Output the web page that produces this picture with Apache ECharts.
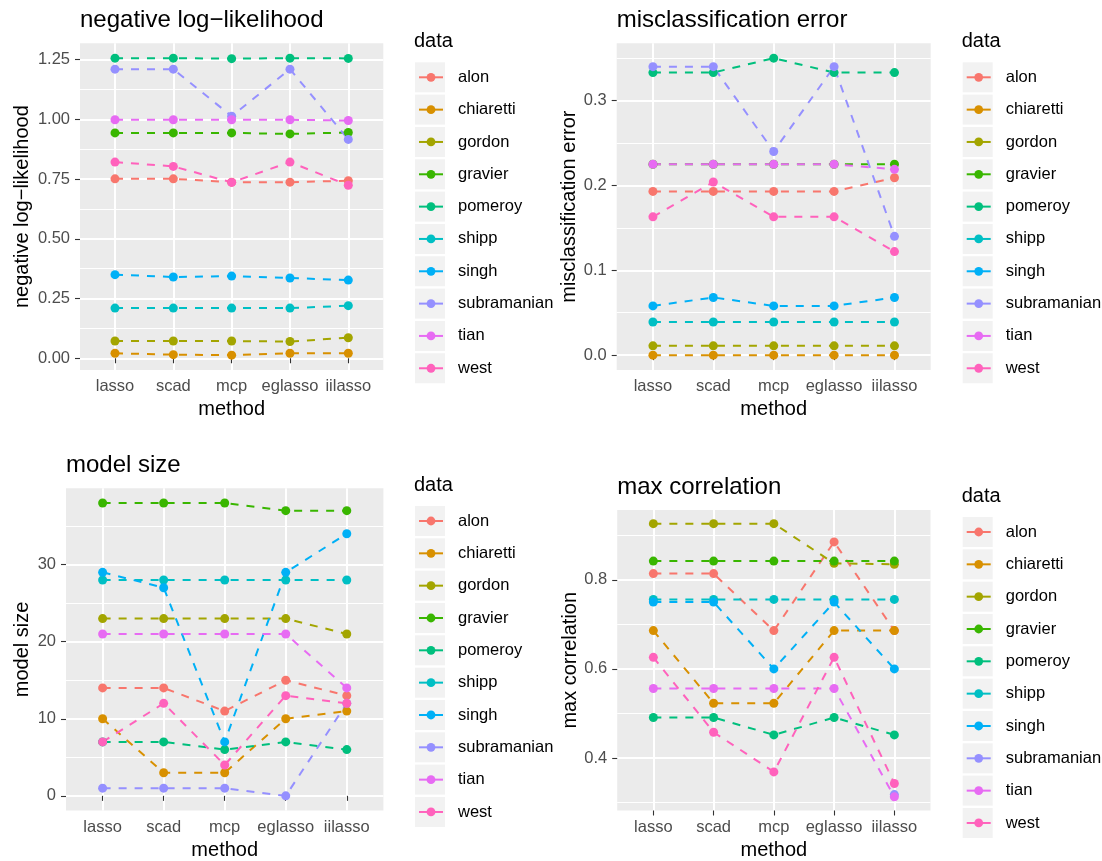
<!DOCTYPE html>
<html><head><meta charset="utf-8">
<script src="https://cdn.jsdelivr.net/npm/echarts@6/dist/echarts.min.js"></script>
<style>html,body{margin:0;padding:0;background:#fff}#c{width:1102px;height:861px}</style>
</head><body><div id="c"></div>
<script>
// ---------- data ----------
const methods = ['lasso', 'scad', 'mcp', 'eglasso', 'iilasso'];
const datasets = ['alon', 'chiaretti', 'gordon', 'gravier', 'pomeroy', 'shipp', 'singh', 'subramanian', 'tian', 'west'];
const colors = ['#F8766D', '#D89000', '#A3A500', '#39B600', '#00BF7D', '#00BFC4', '#00B0F6', '#9590FF', '#E76BF3', '#FF62BC'];

// rows follow `datasets`, columns follow `methods`
const negLogLik = [
  [0.751, 0.751, 0.737, 0.737, 0.743],
  [0.021, 0.015, 0.013, 0.021, 0.021],
  [0.072, 0.072, 0.072, 0.070, 0.086],
  [0.943, 0.943, 0.943, 0.939, 0.945],
  [1.256, 1.256, 1.254, 1.256, 1.255],
  [0.210, 0.210, 0.210, 0.210, 0.220],
  [0.350, 0.340, 0.344, 0.336, 0.327],
  [1.210, 1.210, 1.013, 1.210, 0.916],
  [0.998, 0.998, 0.998, 0.998, 0.995],
  [0.821, 0.803, 0.736, 0.821, 0.724]
];
const misclass = [
  [0.193, 0.193, 0.193, 0.193, 0.209],
  [0.000, 0.000, 0.000, 0.000, 0.000],
  [0.011, 0.011, 0.011, 0.011, 0.011],
  [0.225, 0.225, 0.225, 0.225, 0.225],
  [0.333, 0.333, 0.350, 0.333, 0.333],
  [0.039, 0.039, 0.039, 0.039, 0.039],
  [0.058, 0.068, 0.058, 0.058, 0.068],
  [0.340, 0.340, 0.240, 0.340, 0.140],
  [0.225, 0.225, 0.225, 0.225, 0.219],
  [0.163, 0.204, 0.163, 0.163, 0.122]
];
const modelSize = [
  [14, 14, 11, 15, 13],
  [10, 3, 3, 10, 11],
  [23, 23, 23, 23, 21],
  [38, 38, 38, 37, 37],
  [7, 7, 6, 7, 6],
  [28, 28, 28, 28, 28],
  [29, 27, 7, 29, 34],
  [1, 1, 1, 0, 12],
  [21, 21, 21, 21, 14],
  [7, 12, 4, 13, 12]
];
const maxCorr = [
  [0.814, 0.814, 0.686, 0.885, 0.686],
  [0.686, 0.523, 0.523, 0.686, 0.686],
  [0.926, 0.926, 0.926, 0.837, 0.835],
  [0.842, 0.842, 0.842, 0.842, 0.842],
  [0.491, 0.491, 0.452, 0.491, 0.452],
  [0.756, 0.756, 0.756, 0.756, 0.756],
  [0.750, 0.750, 0.600, 0.750, 0.600],
  [null, null, null, null, 0.318],
  [0.556, 0.556, 0.556, 0.556, 0.313],
  [0.626, 0.458, 0.369, 0.626, 0.343]
];

// tick labels (major) and minor grid breaks
const nllTicks = [0, 0.25, 0.5, 0.75, 1.0, 1.25];
const nllMinor = [0.125, 0.375, 0.625, 0.875, 1.125];
const misTicks = [0, 0.1, 0.2, 0.3];
const misMinor = [0.05, 0.15, 0.25, 0.35];
const sizeTicks = [0, 10, 20, 30];
const sizeMinor = [5, 15, 25, 35];
const corTicks = [0.4, 0.6, 0.8];
const corMinor = [0.3, 0.5, 0.7, 0.9];
const methodPos = [1, 2, 3, 4, 5];

// ---------- layout ----------
const FONT = '"Liberation Sans", Arial, Helvetica, sans-serif';
const FS_TICK = 16.5, FS_AXIS = 20, FS_TITLE = 24;
const panels = [
  { title: 'negative log\u2212likelihood', yName: 'negative log\u2212likelihood', values: negLogLik, major: nllTicks, minor: nllMinor, dec: 2,
    grid: { left: 80, top: 43.3, width: 303.3, height: 326.7 }, yGap: 48, titleTop: 8, legX: 415, legY: 77.3 },
  { title: 'misclassification error', yName: 'misclassification error', values: misclass, major: misTicks, minor: misMinor, dec: 1,
    grid: { left: 616.7, top: 43.3, width: 314, height: 326.7 }, yGap: 35.7, titleTop: 8, legX: 962.7, legY: 77.3 },
  { title: 'model size', yName: 'model size', values: modelSize, major: sizeTicks, minor: sizeMinor, dec: 0,
    grid: { left: 66, top: 488.3, width: 317.4, height: 325 }, yGap: 34, titleTop: 453, legX: 415, legY: 521 },
  { title: 'max correlation', yName: 'max correlation', values: maxCorr, major: corTicks, minor: corMinor, dec: 1,
    grid: { left: 617.2, top: 510, width: 313.3, height: 303.3 }, yGap: 36.2, titleTop: 475.5, legX: 962.7, legY: 532 }
];
const PITCH = 32.33;

function extentOf(vals) {
  const flat = vals.flat().filter(v => v !== null);
  const lo = Math.min(...flat), hi = Math.max(...flat);
  const pad = 0.05 * (hi - lo);
  return [lo - pad, hi + pad];
}

const option = { animation: false, backgroundColor: '#fff', title: [], grid: [], xAxis: [], yAxis: [], legend: [], series: [] };

panels.forEach((p, i) => {
  const [ymin, ymax] = extentOf(p.values);
  option.title.push({ text: p.title, left: p.grid.left, top: p.titleTop, padding: 0,
    textStyle: { fontFamily: FONT, fontSize: FS_TITLE, fontWeight: 'normal', color: '#000' } });
  option.title.push({ text: 'data', left: p.legX - 1, top: p.legY - 46, padding: 0,
    textStyle: { fontFamily: FONT, fontSize: FS_AXIS, fontWeight: 'normal', color: '#000' } });
  option.grid.push(Object.assign({ show: true, backgroundColor: '#EBEBEB', borderWidth: 0, containLabel: false }, p.grid));
  option.xAxis.push({
    gridIndex: i, type: 'value', min: 0.4, max: 5.6,
    axisLine: { show: false },
    axisTick: { show: true, customValues: methodPos, length: 5, lineStyle: { color: '#333', width: 1.1 } },
    axisLabel: { customValues: methodPos, formatter: v => methods[Math.round(v) - 1], color: '#4D4D4D', fontSize: FS_TICK, fontFamily: FONT, margin: 8 },
    splitLine: { show: true, lineStyle: { color: '#fff', width: 2 } },
    name: 'method', nameLocation: 'middle', nameGap: 29.5,
    nameTextStyle: { fontFamily: FONT, fontSize: FS_AXIS, color: '#000' }
  });
  option.yAxis.push({
    gridIndex: i, type: 'value', min: ymin, max: ymax, position: 'left',
    axisLine: { show: false },
    axisTick: { show: true, customValues: p.major, length: 5, lineStyle: { color: '#333', width: 1.1 } },
    axisLabel: { customValues: p.major, formatter: v => v.toFixed(p.dec), color: '#4D4D4D', fontSize: FS_TICK, fontFamily: FONT, margin: 10 },
    splitLine: { show: true, lineStyle: { color: '#fff', width: 2 } },
    name: p.yName, nameLocation: 'middle', nameGap: p.yGap,
    nameTextStyle: { fontFamily: FONT, fontSize: FS_AXIS, color: '#000' }
  });
  option.yAxis.push({
    gridIndex: i, type: 'value', min: ymin, max: ymax, position: 'left',
    axisLine: { show: false }, axisLabel: { show: false },
    axisTick: { show: false, customValues: p.minor },
    splitLine: { show: true, lineStyle: { color: '#fff', width: 1 } }
  });
  // legend key backgrounds
  option.legend.push({
    left: p.legX, top: p.legY - 15, orient: 'vertical', padding: 0, z: 3, selectedMode: false,
    icon: 'rect', itemWidth: 30, itemHeight: 30, itemGap: PITCH - 30,
    itemStyle: { color: '#F2F2F2', borderWidth: 0 },
    formatter: () => '', textStyle: { fontSize: 1 },
    data: datasets
  });
  // legend keys + labels
  option.legend.push({
    left: p.legX + 3, top: p.legY - PITCH / 2, orient: 'vertical', padding: 0, z: 4, selectedMode: false,
    itemWidth: 24, itemHeight: 11, itemGap: 0,
    lineStyle: { type: 'solid', width: 2 },
    textStyle: { fontFamily: FONT, fontSize: FS_TICK, color: '#000', lineHeight: PITCH, padding: [0, 0, 0, 10] },
    data: datasets
  });
});

// lines first, then points (ggplot layer order)
panels.forEach((p, i) => {
  datasets.forEach((d, k) => {
    option.series.push({
      type: 'line', name: d, xAxisIndex: i, yAxisIndex: 2 * i, z: 2,
      data: p.values[k].map((v, j) => [methodPos[j], v]),
      symbol: 'none', connectNulls: false, silent: true,
      lineStyle: { type: [8, 8], width: 2, color: colors[k] },
      itemStyle: { color: colors[k] }
    });
  });
});
panels.forEach((p, i) => {
  datasets.forEach((d, k) => {
    option.series.push({
      type: 'scatter', name: d, xAxisIndex: i, yAxisIndex: 2 * i, z: 3,
      data: p.values[k].map((v, j) => [methodPos[j], v]).filter(pt => pt[1] !== null),
      symbol: 'circle', symbolSize: 9, silent: true,
      itemStyle: { color: colors[k], opacity: 1 }
    });
  });
});

const chart = echarts.init(document.getElementById('c'), null, { renderer: 'canvas' });
chart.setOption(option);
</script>
</body></html>
